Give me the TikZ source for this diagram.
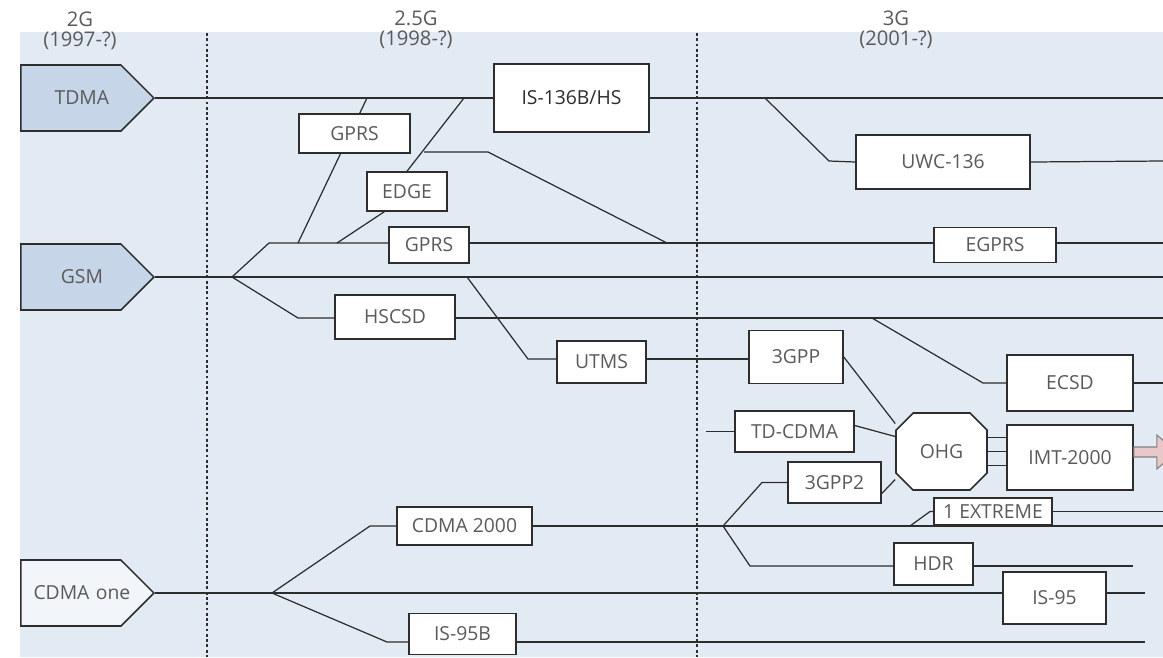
\documentclass[tikz,border=0pt]{standalone}
\usepackage{fontspec}
\setmainfont{Open Sans}
\usetikzlibrary{shapes.symbols,shapes.misc}
\definecolor{paper}{RGB}{226,234,244}
\definecolor{gsmfill}{RGB}{198,213,232}
\definecolor{cdmafill}{RGB}{242,246,250}
\definecolor{ink}{RGB}{45,45,45}
\definecolor{label}{RGB}{90,90,90}
\definecolor{arrowfill}{RGB}{232,200,200}

\begin{document}
\begin{tikzpicture}[x=0.02cm, y=-0.02cm,
    techbox/.style={draw=ink, fill=white, line width=0.9pt, inner sep=0pt, text=label, font=\fontsize{11}{13}\selectfont},
    gen/.style={signal, signal to=east, draw=ink, line width=0.9pt, inner sep=0pt, minimum width=2.64cm, minimum height=1.32cm, text width=2.0cm, align=center, anchor=east, text=label, font=\fontsize{11}{13}\selectfont,
      execute at begin node=\hspace*{0.22cm}, execute at end node=\hspace*{-0.22cm}},
    era/.style={align=center, text=label, inner sep=0pt, font=\fontsize{11.5}{11.5}\selectfont},
    link/.style={draw=ink, line width=0.7pt},
    sepline/.style={draw=ink, line width=0.8pt, dash pattern=on 1.6pt off 1.4pt}]
    \useasboundingbox (0,0) rectangle (1163,657);
    \fill[white] (0,0) rectangle (1163,657);
    \fill[paper] (20,32) rectangle (1163,657);

    % generations
    \node[era] (g2) at (80,31) {2G\\(1997-?)};
    \node[era] (g25) at (416,30) {2.5G\\(1998-?)};
    \node[era] (g3) at (896,30) {3G\\(2001-?)};
    \draw[sepline] (207,33) -- (207,657);
    \draw[sepline] (697,33) -- (697,657);

    % branch points
    \coordinate (gs) at (232,277);
    \coordinate (gu) at (269,243);
    \coordinate (gl) at (298,318);
    \coordinate (cs) at (272,593);
    \coordinate (cu) at (370,526);
    \coordinate (cl) at (387,642);
    \coordinate (x1) at (723,526);
    \coordinate (x2) at (762,482.5);
    \coordinate (x3) at (750,566);
    \coordinate (x4) at (910,526);
    \coordinate (x5) at (930,511.5);
    \coordinate (u1) at (765,98);
    \coordinate (u2) at (829,161);
    \coordinate (m1) at (467,277);
    \coordinate (m2) at (528,359);
    \coordinate (c1) at (872,318);
    \coordinate (c2) at (983,383);
    \coordinate (p1) at (367,98);
    \coordinate (p2) at (298,243);
    \coordinate (d1) at (464,98);
    \coordinate (d2) at (337,243);
    \coordinate (d3) at (424,152);
    \coordinate (d4) at (488,152);
    \coordinate (d5) at (667,243);
    \coordinate (t0) at (706,431.5);

    % free ends at the right
    \coordinate (e1) at (1163,98);
    \coordinate (e2) at (1163,161);
    \coordinate (e3) at (1163,243);
    \coordinate (e4) at (1163,277);
    \coordinate (e5) at (1163,318);
    \coordinate (e6) at (1163,383);
    \coordinate (e7) at (1145,593);
    \coordinate (e8) at (1163,526);
    \coordinate (e9) at (1133,566);
    \coordinate (e10) at (1163,511.5);
    \coordinate (e11) at (1145,642);

    \draw[link] (p2) -- (p1);

    % 2G systems
    \node[gen, fill=gsmfill] (tdma) at (155,98) {TDMA};
    \node[gen, fill=gsmfill] (gsm) at (155,277) {GSM};
    \node[gen, fill=cdmafill] (cdmaone) at (155,593) {CDMA one};

    % 2.5G and 3G systems
    \node[techbox, minimum width=3.10cm, minimum height=1.36cm, text=ink] (is136) at (571.5,98) {IS-136B/HS};
    \node[techbox, minimum width=2.22cm, minimum height=0.78cm] (gprsa) at (354.5,133.5) {GPRS};
    \node[techbox, minimum width=1.60cm, minimum height=0.78cm] (edge) at (407,191.5) {EDGE};
    \node[techbox, minimum width=1.60cm, minimum height=0.72cm] (gprsb) at (429,245) {GPRS};
    \node[techbox, minimum width=3.48cm, minimum height=1.08cm] (uwc) at (943,162) {UWC-136};
    \node[techbox, minimum width=2.44cm, minimum height=0.70cm] (egprs) at (995,245) {EGPRS};
    \node[techbox, minimum width=2.40cm, minimum height=0.88cm] (hscsd) at (395,317) {HSCSD};
    \node[techbox, minimum width=1.78cm, minimum height=0.84cm] (utms) at (601.5,362) {UTMS};
    \node[techbox, minimum width=1.88cm, minimum height=1.06cm] (gpp) at (796,357) {3GPP};
    \node[techbox, minimum width=2.52cm, minimum height=1.12cm] (ecsd) at (1070,383) {ECSD};
    \node[techbox, minimum width=2.38cm, minimum height=0.82cm] (tdcdma) at (794.5,431.5) {TD-CDMA};
    \node[techbox, chamfered rectangle, chamfered rectangle xsep=0.2cm, chamfered rectangle ysep=0.2cm, minimum width=1.82cm, minimum height=1.54cm] (ohg) at (941.5,451.5) {OHG};
    \node[techbox, minimum width=2.52cm, minimum height=1.30cm] (imt) at (1070,457.5) {IMT-2000};
    \node[techbox, minimum width=1.86cm, minimum height=0.82cm] (gpp2) at (834.5,482.5) {3GPP2};
    \node[techbox, minimum width=2.36cm, minimum height=0.54cm] (extreme) at (993,511.5) {1 EXTREME};
    \node[techbox, minimum width=2.70cm, minimum height=0.76cm] (cdma2k) at (464.5,526) {CDMA 2000};
    \node[techbox, minimum width=1.58cm, minimum height=0.84cm] (hdr) at (933.5,564) {HDR};
    \node[techbox, minimum width=2.06cm, minimum height=1.04cm] (is95) at (1054.5,598) {IS-95};
    \node[techbox, minimum width=2.14cm, minimum height=0.82cm] (is95b) at (462.5,634) {IS-95B};

    % fat arrow out of IMT-2000
    \coordinate (ar) at ([yshift=0.1cm]imt.east);
    \filldraw[draw=ink!60, fill=arrowfill, line width=0.6pt] ([yshift=0.11cm]ar) -- ++(23,0) -- ++(0,-12) -- ++(20,17) -- ++(-20,17) -- ++(0,-12) -- ++(-23,0) -- cycle;

    % TDMA family
    \draw[link] (tdma.east) -- (is136.west);
    \draw[link] (is136.east) -- (e1);
    \draw[link] (u1) -- (u2) -- (uwc.west);
    \draw[link] (uwc.east) -- (e2);
    \draw[link] (edge.north) -- (d1);
    \draw[link] (d2) -- ([xshift=0.36cm]edge.south west);
    \draw[link] (d3) -- (d4) -- (d5);

    % GSM family
    \draw[link] (gsm.east) -- (e4);
    \draw[link] (gs) -- (gu) -- (gu -| gprsb.west);
    \draw[link] (gprsb.east |- gu) -- (gu -| egprs.west);
    \draw[link] (egprs.east |- gu) -- (e3);
    \draw[link] (gs) -- (gl) -- (gl -| hscsd.west);
    \draw[link] (gl -| hscsd.east) -- (e5);
    \draw[link] (m1) -- (m2) -- (m2 -| utms.west);
    \draw[link] (m2 -| utms.east) -- (m2 -| gpp.west);
    \draw[link] (c1) -- (c2) -- (ecsd.west);
    \draw[link] (ecsd.east) -- (e6);
    \draw[link] (t0) -- (tdcdma.west);
    \draw[link] (gpp.east) -- ([yshift=0.56cm]ohg.west);
    \draw[link] ([yshift=0.12cm]tdcdma.east) -- ([yshift=0.3cm]ohg.west);
    \draw[link] ([yshift=-0.22cm]gpp2.east) -- ([yshift=-0.56cm]ohg.west);
    \foreach \dy in {0.28,0,-0.28}
      \draw[link] ([yshift=\dy cm]ohg.east) -- ([yshift=\dy cm]ohg.east -| imt.west);

    % CDMA family
    \draw[link] (cdmaone.east) -- (cdmaone.east -| is95.west);
    \draw[link] (cdmaone.east -| is95.east) -- (e7);
    \draw[link] (cs) -- (cu) -- (cdma2k.west);
    \draw[link] (cdma2k.east) -- (e8);
    \draw[link] (x1) -- (x2) -- (gpp2.west);
    \draw[link] (x1) -- (x3) -- (x3 -| hdr.west);
    \draw[link] (x3 -| hdr.east) -- (e9);
    \draw[link] (x4) -- (x5) -- (extreme.west);
    \draw[link] (extreme.east) -- (e10);
    \draw[link] (cs) -- (cl) -- (cl -| is95b.west);
    \draw[link] (cl -| is95b.east) -- (e11);
  \end{tikzpicture}
\end{document}
